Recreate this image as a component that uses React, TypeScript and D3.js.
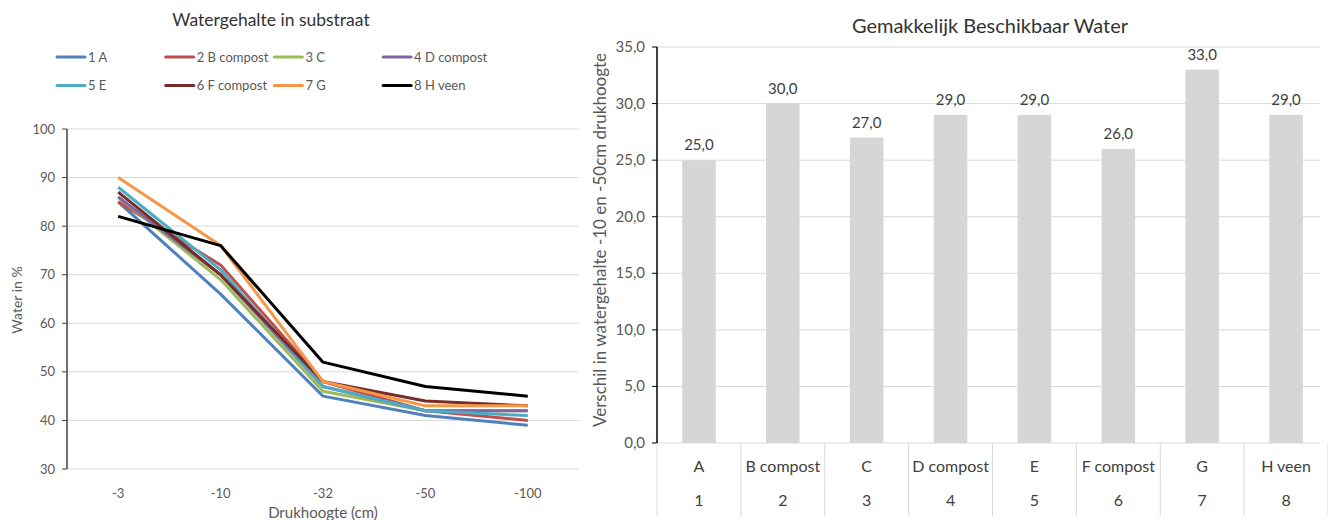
import React from 'react';
import * as d3 from 'd3';

// Left chart data
const pressures = ['-3', '-10', '-32', '-50', '-100'];
const seriesNames = ['1 A', '2 B compost', '3 C', '4 D compost', '5 E', '6 F compost', '7 G', '8 H veen'];
const seriesColors = ['#4F81BD', '#C0504D', '#9BBB59', '#8064A2', '#4BACC6', '#772C2A', '#F79646', '#000000'];
const valuesA = [85, 66, 45, 41, 39];
const valuesB = [85, 72, 48, 42, 40];
const valuesC = [86, 69, 46, 42, 42];
const valuesD = [86, 70, 47, 42, 42];
const valuesE = [88, 71, 47, 42, 41];
const valuesF = [87, 70, 48, 44, 43];
const valuesG = [90, 76, 48, 43, 43];
const valuesH = [82, 76, 52, 47, 45];
const lineSeries = [valuesA, valuesB, valuesC, valuesD, valuesE, valuesF, valuesG, valuesH];
const waterTicks = [30, 40, 50, 60, 70, 80, 90, 100];

// Right chart data
const substrates = ['A', 'B compost', 'C', 'D compost', 'E', 'F compost', 'G', 'H veen'];
const substrateNums = ['1', '2', '3', '4', '5', '6', '7', '8'];
const available = [25, 30, 27, 29, 29, 26, 33, 29];
const availTicks = [0, 5, 10, 15, 20, 25, 30, 35];

const font = 'Lato, "Open Sans", sans-serif';
const tickColor = '#595959';
const gridColor = '#D9D9D9';
const fmt = (v: number) => v.toFixed(1).replace('.', ',');

const LineChart: React.FC = () => {
  const x = d3.scalePoint<string>().domain(pressures).range([67, 579]).padding(0.5);
  const y = d3.scaleLinear().domain([30, 100]).range([469, 129]);
  const line = d3.line<number>()
    .x((_, i) => x(pressures[i]) as number)
    .y(d => y(d));

  return (
    <g fontFamily={font}>
      <text x={271} y={26} textAnchor="middle" fontSize={17.5} fill="#333">Watergehalte in substraat</text>

      {/* Legend */}
      {seriesNames.map((name, i) => {
        const col = i % 4;
        const row = Math.floor(i / 4);
        const lx = 57 + col * 108.7;
        const ly = 57 + row * 28.5;
        return (
          <g key={name}>
            <line x1={lx} x2={lx + 28} y1={ly} y2={ly} stroke={seriesColors[i]} strokeWidth={3} strokeLinecap="round" />
            <text x={lx + 31} y={ly + 4.5} fontSize={13} fill={tickColor}>{name}</text>
          </g>
        );
      })}

      {/* Grid */}
      {waterTicks.map(t => (
        <g key={t}>
          <line x1={67} x2={579} y1={y(t)} y2={y(t)} stroke={gridColor} strokeWidth={1} />
          <line x1={62} x2={67} y1={y(t)} y2={y(t)} stroke="#404040" strokeWidth={1} />
          <text x={55} y={y(t) + 4.5} textAnchor="end" fontSize={13} fill={tickColor}>{t}</text>
        </g>
      ))}
      <line x1={67} x2={67} y1={129} y2={469} stroke="#404040" strokeWidth={1.5} />

      {pressures.map(p => (
        <text key={p} x={x(p)} y={498} textAnchor="middle" fontSize={13} fill={tickColor}>{p}</text>
      ))}

      {lineSeries.map((vals, i) => (
        <path key={i} d={line(vals) || ''} fill="none" stroke={seriesColors[i]} strokeWidth={3} strokeLinejoin="round" />
      ))}

      <text x={323} y={518} textAnchor="middle" fontSize={15} fill={tickColor}>Drukhoogte (cm)</text>
      <text transform="translate(22,300) rotate(-90)" textAnchor="middle" fontSize={14} fill={tickColor}>Water in %</text>
    </g>
  );
};

const BarChart: React.FC = () => {
  const left = 657;
  const right = 1328;
  const x = d3.scaleBand<string>().domain(substrates).range([left, right]).paddingInner(0.6).paddingOuter(0.3);
  const step = x.step();
  const y = d3.scaleLinear().domain([0, 35]).range([443, 47]);

  return (
    <g fontFamily={font}>
      <text x={990} y={33} textAnchor="middle" fontSize={20} fill="#333">Gemakkelijk Beschikbaar Water</text>

      {availTicks.map(t => (
        <g key={t}>
          <line x1={left} x2={1320} y1={y(t)} y2={y(t)} stroke={gridColor} strokeWidth={1} />
          <line x1={left - 5} x2={left} y1={y(t)} y2={y(t)} stroke="#000" strokeWidth={1} />
          <text x={645} y={y(t) + 5} textAnchor="end" fontSize={15} fill={tickColor}>{fmt(t)}</text>
        </g>
      ))}

      {substrates.map((s, i) => (
        <g key={s}>
          <rect x={x(s)} y={y(available[i])} width={x.bandwidth()} height={y(0) - y(available[i])} fill="#D6D6D6" />
          <text x={(x(s) as number) + x.bandwidth() / 2} y={y(available[i]) - 10} textAnchor="middle" fontSize={15} fill="#404040">{fmt(available[i])}</text>
          <text x={(x(s) as number) + x.bandwidth() / 2} y={472} textAnchor="middle" fontSize={16} fill="#404040">{s}</text>
          <text x={(x(s) as number) + x.bandwidth() / 2} y={506} textAnchor="middle" fontSize={16} fill="#404040">{substrateNums[i]}</text>
        </g>
      ))}

      {/* category table separators */}
      {d3.range(substrates.length + 1).map(k => (
        <line key={k} x1={left + k * step} x2={left + k * step} y1={443} y2={516} stroke={gridColor} strokeWidth={1} />
      ))}

      <line x1={left} x2={left} y1={47} y2={443} stroke="#000" strokeWidth={1.5} />

      <text transform="translate(606,240) rotate(-90)" textAnchor="middle" fontSize={17} fill={tickColor}>Verschil in watergehalte -10 en -50cm drukhoogte</text>
    </g>
  );
};

export default function App() {
  return (
    <svg width={1328} height={520} style={{ position: 'absolute', left: 0, top: 0, background: '#fff' }}>
      <rect width={1328} height={520} fill="#fff" />
      <LineChart />
      <BarChart />
    </svg>
  );
}
